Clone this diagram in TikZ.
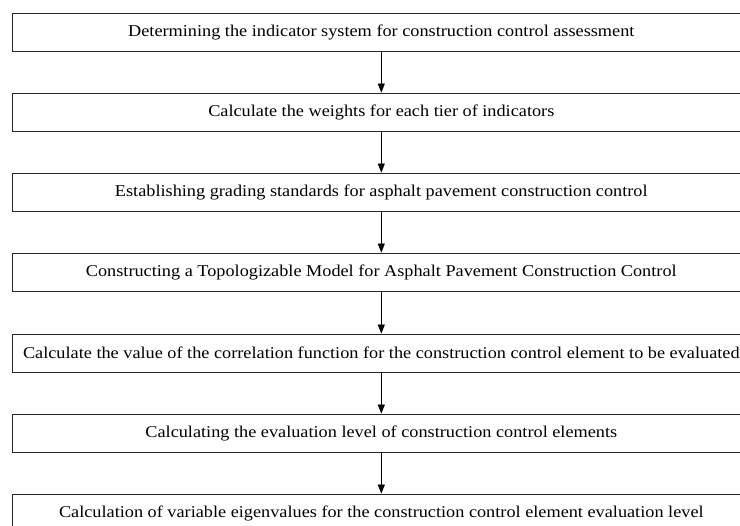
\documentclass[tikz,border=0pt]{standalone}
\usepackage{fontspec}
\setmainfont[FakeStretch=1.106]{Liberation Serif}
\usetikzlibrary{arrows.meta}
\tikzstyle{stage}=[draw=black!85,line width=0.8pt,minimum width=737.5pt,minimum height=38pt,inner sep=0pt,font=\fontsize{16.5}{19}\selectfont]
\tikzstyle{flow} = [draw,line width=0.8pt,-{Triangle[length=9pt,width=7pt]}]

\begin{document}
\begin{tikzpicture}[x=1pt,y=-1pt]
\useasboundingbox (0,0) rectangle (740,526);
\clip (0,0) rectangle (740,526);
\foreach \ypos/\name/\txt in {
  32/s1/{Determining the indicator system for construction control assessment},
  112/s2/{Calculate the weights for each tier of indicators},
  192/s3/{Establishing grading standards for asphalt pavement construction control},
  272/s4/{Constructing a Topologizable Model for Asphalt Pavement Construction Control},
  353/s5/{Calculate the value of the correlation function for the construction control element to be evaluated},
  433/s6/{Calculating the evaluation level of construction control elements},
  513/s7/{Calculation of variable eigenvalues for the construction control element evaluation level}}{
  \node[stage] (\name) at (381.3,\ypos) {\txt};
}
\foreach \source/\dest in {s1/s2, s2/s3, s3/s4, s4/s5, s5/s6, s6/s7}{
  \path[flow] (\source) -- (\dest);
}
\end{tikzpicture}
\end{document}
